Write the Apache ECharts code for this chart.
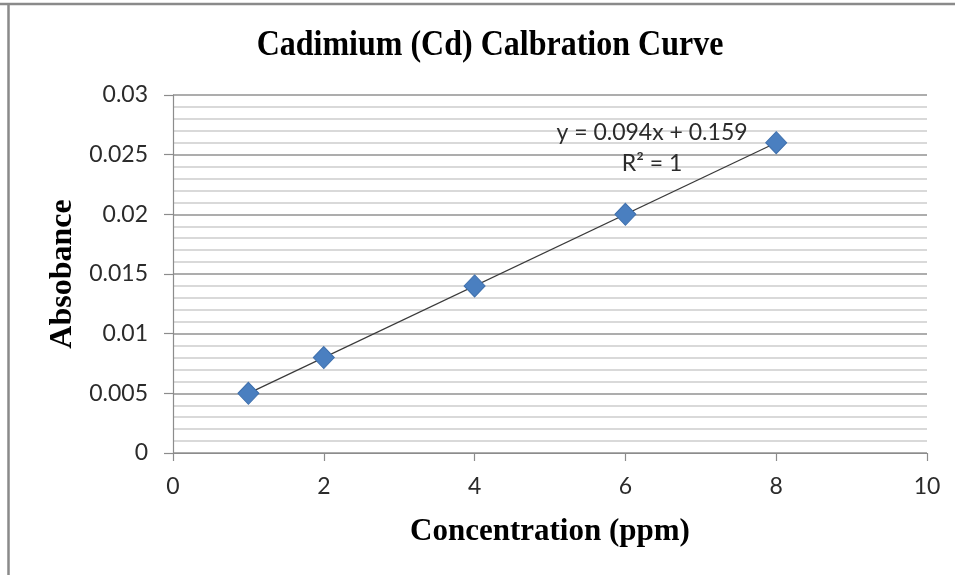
<!DOCTYPE html>
<html>
<head>
<meta charset="utf-8">
<script src="https://cdn.jsdelivr.net/npm/echarts@6/dist/echarts.min.js"></script>
<style>
  html, body { margin: 0; padding: 0; background: #fff; }
  #chart { width: 955px; height: 575px; }
</style>
</head>
<body>
<div id="chart"></div>
<script>
// Calibration standards: concentration (ppm) and measured absorbance
const concentration = [1, 2, 4, 6, 8];
const absorbance = [0.005, 0.008, 0.014, 0.020, 0.026];

// Trendline annotation as printed on the chart
const equationText = 'y = 0.094x + 0.159';
const r2Text = 'R\u00B2 = 1';

// Least-squares linear fit used to draw the trendline
function linearFit(xs, ys) {
  const n = xs.length;
  const mx = xs.reduce((a, b) => a + b, 0) / n;
  const my = ys.reduce((a, b) => a + b, 0) / n;
  let sxy = 0, sxx = 0;
  for (let i = 0; i < n; i++) {
    sxy += (xs[i] - mx) * (ys[i] - my);
    sxx += (xs[i] - mx) * (xs[i] - mx);
  }
  const slope = sxy / sxx;
  return { slope, intercept: my - slope * mx };
}
const fit = linearFit(concentration, absorbance);
const xMin = Math.min(...concentration), xMax = Math.max(...concentration);
const trend = [
  [xMin, fit.slope * xMin + fit.intercept],
  [xMax, fit.slope * xMax + fit.intercept]
];

const points = concentration.map((c, i) => [c, absorbance[i]]);

const chart = echarts.init(document.getElementById('chart'));
const serif = '"Liberation Serif", "Times New Roman", serif';
const sans = 'Lato, "Open Sans", sans-serif';

chart.setOption({
  animation: false,
  backgroundColor: '#fff',
  grid: { left: 173, right: 28, top: 95, bottom: 122 },
  xAxis: {
    type: 'value',
    min: 0, max: 10, interval: 2,
    name: 'Concentration (ppm)',
    nameLocation: 'middle',
    nameGap: 63,
    nameTextStyle: { fontFamily: serif, fontWeight: 'bold', fontSize: 31, color: '#000' },
    axisLine: { show: true, lineStyle: { color: '#8c8c8c', width: 1.2 } },
    axisTick: { show: true, length: 8, lineStyle: { color: '#8c8c8c', width: 1.2 } },
    axisLabel: { fontFamily: sans, fontSize: 23, color: '#2b2b2b', margin: 22 },
    splitLine: { show: false }
  },
  yAxis: {
    type: 'value',
    min: 0, max: 0.03, interval: 0.005,
    name: 'Absobance',
    nameLocation: 'middle',
    nameGap: 93,
    nameRotate: 90,
    nameTextStyle: { fontFamily: serif, fontWeight: 'bold', fontSize: 32, color: '#000' },
    axisLine: { show: true, lineStyle: { color: '#8c8c8c', width: 1.2 } },
    axisTick: { show: true, length: 9, lineStyle: { color: '#8c8c8c', width: 1.2 } },
    axisLabel: { fontFamily: sans, fontSize: 23, color: '#2b2b2b', margin: 25 },
    splitLine: { show: true, lineStyle: { color: '#adadad', width: 2 } },
    minorTick: { show: false, splitNumber: 5 },
    minorSplitLine: { show: true, lineStyle: { color: '#cdcdcd', width: 1.6 } }
  },
  graphic: [
    // outer frame edges
    { type: 'line', shape: { x1: 0, y1: 4, x2: 955, y2: 4 }, style: { stroke: '#8a8a8a', lineWidth: 2.5 } },
    { type: 'line', shape: { x1: 8.5, y1: 3, x2: 8.5, y2: 575 }, style: { stroke: '#8a8a8a', lineWidth: 2.5 } },
    // chart title, slightly stretched vertically
    { type: 'text', x: 490, y: 45, scaleY: 1.15, z: 10,
      style: { text: 'Cadimium (Cd) Calbration Curve', x: 0, y: 0, align: 'center', verticalAlign: 'middle',
               font: 'bold 32px "Liberation Serif", serif', fill: '#000' } },
    // trendline annotation
    { type: 'text', x: 652, y: 133, z: 10,
      style: { text: equationText, x: 0, y: 0, align: 'center', verticalAlign: 'middle',
               font: '23px Lato, sans-serif', fill: '#2b2b2b' } },
    { type: 'text', x: 652, y: 164, z: 10,
      style: { text: r2Text, x: 0, y: 0, align: 'center', verticalAlign: 'middle',
               font: '23px Lato, sans-serif', fill: '#2b2b2b' } }
  ],
  series: [
    {
      type: 'line',
      data: trend,
      symbol: 'none',
      lineStyle: { color: '#3a3a3a', width: 1.2 },
      z: 2,
      silent: true
    },
    {
      type: 'scatter',
      data: points,
      symbol: 'diamond',
      symbolSize: [21, 22],
      itemStyle: { color: '#4a7fc0', borderColor: '#3f70ad', borderWidth: 1, opacity: 1 },
      z: 3
    }
  ]
});
</script>
</body>
</html>
